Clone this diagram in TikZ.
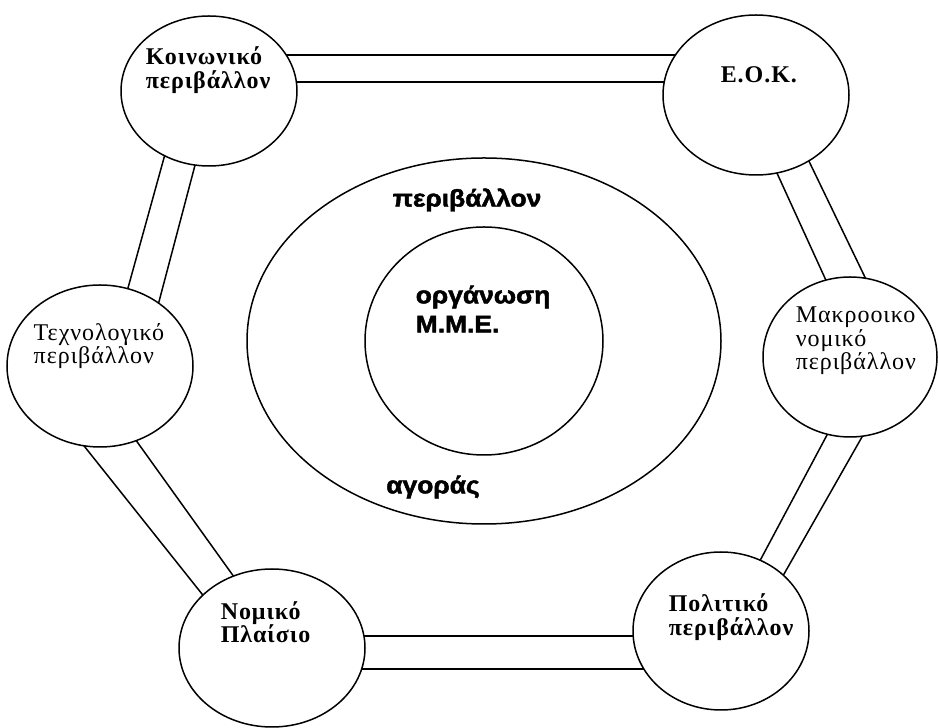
\documentclass[tikz,border=0pt]{standalone}
\usepackage{fontspec}
\setmainfont{Liberation Serif}[LetterSpace=4]
\newfontfamily\ctrfont{Liberation Sans}[FakeStretch=1.1, FakeBold=2]
\usetikzlibrary{shapes.geometric, backgrounds, positioning}

\begin{document}
\begin{tikzpicture}[
  x=1pt, y=1pt,
  line width=1.5pt,
  env/.style={draw, ellipse, inner sep=0pt, fill=white},
  link/.style={line width=1.5pt},
  lbl/.style={anchor=west, align=left, inner sep=0pt,
              font=\fontsize{24}{23.5}\selectfont},
  boldlbl/.style={lbl, font=\fontsize{24}{23.5}\selectfont\bfseries},
  ctr/.style={inner sep=0pt, font=\fontsize{24}{29}\selectfont\ctrfont\bfseries},
]
\useasboundingbox (0,0) rectangle (938,728);

% Outside factors
\node[env, minimum width=176, minimum height=150] (koin)  at (209,637) {};
\node[env, minimum width=186, minimum height=160] (eok)   at (756,633) {};
\node[env, minimum width=186, minimum height=162] (tech)  at (100,362) {};
\node[env, minimum width=174, minimum height=160] (macro) at (850,371) {};
\node[env, minimum width=186, minimum height=158] (nomos) at (272,80)  {};
\node[env, minimum width=176, minimum height=158] (polit) at (721,97)  {};

\node[boldlbl] (koin-txt)  at (145,658) {Κοινωνικό\\περιβάλλον};
\node[boldlbl] (eok-txt)   at (720,653) {Ε.Ο.Κ.};
\node[lbl]     (tech-txt)  at (33,382)  {Τεχνολογικό\\περιβάλλον};
\node[lbl]     (macro-txt) at (795,387) {Μακροοικο\\νομικό\\περιβάλλον};
\node[boldlbl] (nomos-txt) at (220,106) {Νομικό\\Πλαίσιο};
\node[boldlbl] (polit-txt) at (668,111) {Πολιτικό\\περιβάλλον};

% Market environment and the firm
\node[draw, ellipse, inner sep=0pt, minimum width=474, minimum height=366] (market) at (484,387) {};
\node[env, minimum width=238, minimum height=228] (org) at (484,387) {};
\node[ctr] (market-top) at (467,528) {περιβάλλον};
\node[ctr, anchor=west, align=left] (org-txt) at (415,419) {οργάνωση\\Μ.Μ.Ε.};
\node[ctr] (market-bot) at (433,241) {αγοράς};

% Double links, drawn behind the circles
\begin{scope}[on background layer]
\foreach \a/\ax/\ay/\b/\bx/\by in {
  koin/0/36/eok/0/40,       koin/0/9/eok/0/13,
  nomos/0/12/polit/0/-5,    nomos/0/-21/polit/0/-38,
  koin/-26.5/0/tech/6.4/0,  koin/5.6/0/tech/42/0,
  tech/-79.6/0/nomos/-27/0, tech/-17.3/0/nomos/13/0,
  eok/-14.7/0/macro/11/0,   eok/21/0/macro/53.5/0,
  macro/18.6/0/polit/1.5/0, macro/57.5/0/polit/30.6/0%
}{
  \draw[link] ([xshift=\ax, yshift=\ay]\a.center) -- ([xshift=\bx, yshift=\by]\b.center);
}
\end{scope}
\end{tikzpicture}
\end{document}
